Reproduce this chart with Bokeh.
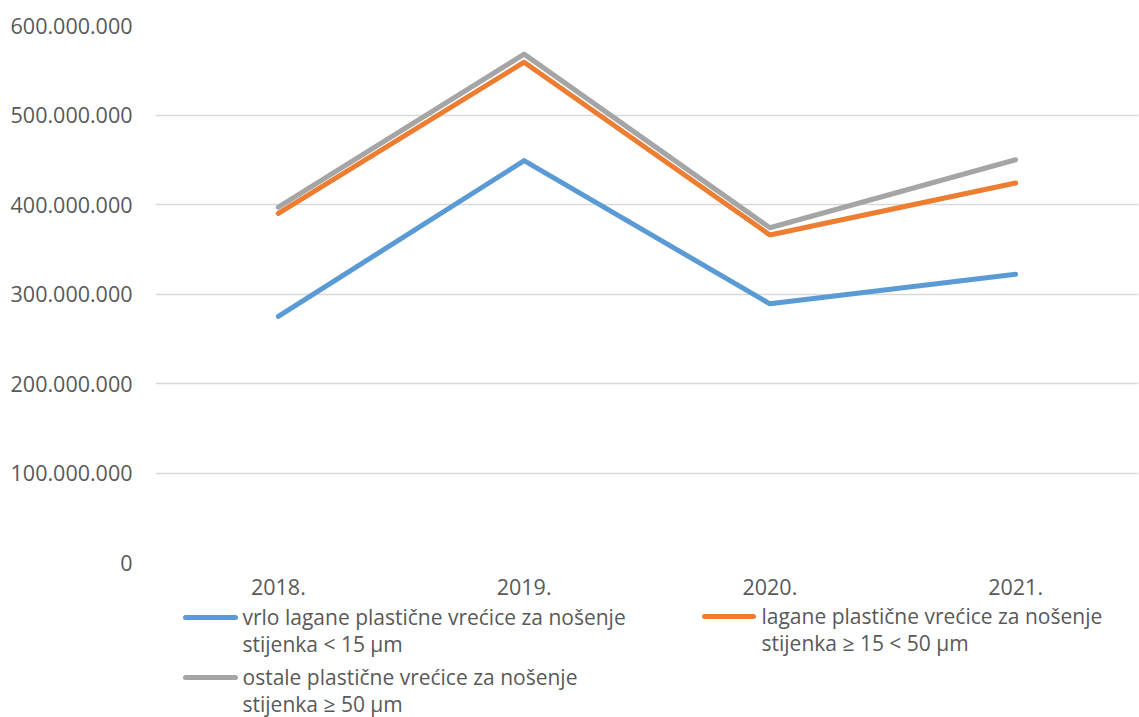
from bokeh.plotting import figure
from bokeh.models import FactorRange, Range1d, FixedTicker
from bokeh.layouts import column
from bokeh.embed import file_html
from bokeh.resources import INLINE
from bokeh.core.properties import value

years = ["2018.", "2019.", "2020.", "2021."]
vrlo_lagane = [275e6, 449e6, 289e6, 322e6]
lagane = [390e6, 559e6, 366e6, 424e6]
ostale = [397e6, 568e6, 374e6, 450e6]
y_ticks = [0, 100e6, 200e6, 300e6, 400e6, 500e6, 600e6]

names = [
    ["vrlo lagane plastične vrećice za nošenje", "stijenka < 15 µm"],
    ["lagane plastične vrećice za nošenje", "stijenka ≥ 15 < 50 µm"],
    ["ostale plastične vrećice za nošenje", "stijenka ≥ 50 µm"],
]
colors = ["#5B9BD5", "#ED7D31", "#A5A5A5"]
FONT = "Open Sans"
TXT = "#595959"

W = 1139
MAIN_H = 600
p = figure(width=W, height=MAIN_H, x_range=FactorRange(*years, range_padding=0),
           y_range=Range1d(0, 600e6), output_backend="svg", toolbar_location=None,
           min_border_left=155, min_border_right=1, min_border_top=25, min_border_bottom=38)
p.outline_line_color = None
p.background_fill_color = "white"
p.border_fill_color = "white"
p.xgrid.grid_line_color = None
p.ygrid.grid_line_color = "#D9D9D9"
p.ygrid.grid_line_width = 1.3
p.yaxis.ticker = FixedTicker(ticks=y_ticks)
p.yaxis.major_label_overrides = {t: ("{:,}".format(int(t)).replace(",", ".")) for t in y_ticks}
for ax in (p.xaxis[0], p.yaxis[0]):
    ax.axis_line_color = None
    ax.major_tick_line_color = None
    ax.minor_tick_line_color = None
    ax.major_label_text_font = FONT
    ax.major_label_text_font_size = "21.5px"
    ax.major_label_text_color = TXT
p.yaxis.major_label_standoff = 17
p.xaxis.major_label_standoff = 10

for vals, c in zip([vrlo_lagane, lagane, ostale], colors):
    p.line(years, vals, line_color=c, line_width=5, line_cap="round", line_join="round")

# legend figure (coordinates are page pixels)
LH = 717 - MAIN_H
lg = figure(width=W, height=LH, x_range=Range1d(155, 1138), y_range=Range1d(717, MAIN_H),
            output_backend="svg", toolbar_location=None,
            min_border_left=155, min_border_right=1, min_border_top=0, min_border_bottom=0,
            x_axis_location=None, y_axis_location=None)
lg.outline_line_color = None
lg.xgrid.grid_line_color = None
lg.ygrid.grid_line_color = None
lg.background_fill_color = "white"
lg.border_fill_color = "white"

# entries: (sample x0, x1, sample y, text x, line 1 middle, line 2 middle)
entries = [(185, 235, 617, 242, 616, 643),
           (704, 753, 616, 761, 615, 642),
           (185, 235, 677, 242, 676, 703)]
for (x0, x1, yy, tx, m1, m2), nm, c in zip(entries, names, colors):
    lg.line([x0, x1], [yy, yy], line_color=c, line_width=5, line_cap="round")
    lg.text([tx, tx], [m1, m2], text=nm, text_font=value(FONT),
            text_font_size="21px", text_color=TXT, text_baseline="middle",
            text_align="left")

layout = column(p, lg, spacing=0)
open("out.html", "w").write(file_html(layout, INLINE))
